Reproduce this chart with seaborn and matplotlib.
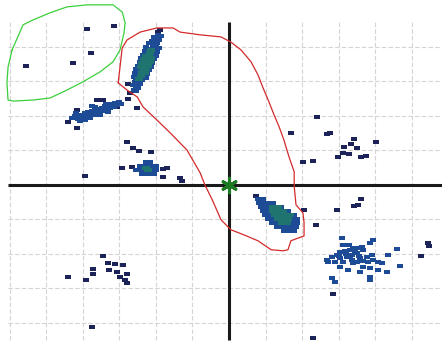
import numpy as np
import pandas as pd
import matplotlib
matplotlib.use("Agg")
import matplotlib.pyplot as plt
from matplotlib.path import Path
import seaborn as sns
sns.set_theme(style="white")

# scattered single points (dark navy)
sparse_x = [-3.88, -3.14, -3.77, -4.26, -5.55,
            -4.40, -4.15, -4.15, -3.61, -3.44, -2.76, -2.51, -3.06,
            -1.89, -1.94, -2.70, -2.76,
            -2.79, -2.62, -2.46, -2.13, -2.92, -2.65, -1.80, -1.69, -1.80, -1.34, -1.28, -3.93,
            -3.44, -3.31, -3.11, -2.90, -3.72, -3.72, -3.28, -3.06, -2.79, -2.98, -2.84, -2.79, -4.40, -3.91, -3.74,
            2.40, 1.69, 2.68, 2.76, 3.42, 3.14, 3.33, 3.50, 4.02, 3.11, 2.98, 3.28, 3.61, 3.74, 2.29, 2.02,
            2.05, 2.38, 2.95, 3.42, 3.52, 3.61, 0.74,
            5.25, 5.44, 5.46, 2.84, 2.29]
sparse_y = [4.52, 4.61, 3.83, 3.54, 3.45,
            1.83, 1.65, 2.17, 2.46, 2.46, 2.49, 2.23, 2.26,
            4.49, 4.44, 2.67, 2.93,
            1.25, 1.07, 0.99, 0.96, 0.49, 0.52, 0.46, 0.49, 0.23, 0.20, 0.12, 0.26,
            -2.06, -2.26, -2.29, -2.32, -2.44, -2.58, -2.46, -2.52, -2.58, -2.67, -2.75, -2.84, -2.67, -2.75, -4.12,
            1.97, 1.51, 1.48, 1.51, 1.33, 1.10, 1.19, 1.07, 1.25, 0.93, 0.81, 0.90, 0.81, 0.84, 0.70, 0.67,
            -0.72, -1.16, -0.72, -0.61, -0.58, -0.41, -0.32,
            -2.06, -1.68, -1.77, -3.16, -4.44]

# cluster points (blue)
cluster_x = [
    # left band
    -4.29, -4.21, -4.13, -4.07, -3.99, -3.93, -3.88, -3.85, -3.80, -3.74, -3.69, -3.66, -3.61, -3.55,
    -3.52, -3.47, -3.42, -3.39, -3.33, -3.28, -3.25, -3.20, -3.14, -3.11, -3.06, -3.01, -2.95,
    -4.07, -3.80, -3.52, -3.31, -3.93, -3.66, -3.36, -4.18, -3.74,
    # elongated upper cluster
    -1.94, -1.87, -2.05, -1.98, -1.91, -2.10, -2.03, -1.96, -2.18, -2.07, -1.99, -1.92,
    -2.26, -2.19, -2.11, -2.04, -1.96, -2.31, -2.23, -2.16, -2.08, -2.01,
    -2.35, -2.28, -2.20, -2.13, -2.05, -2.40, -2.32, -2.25, -2.17, -2.10,
    -2.44, -2.37, -2.29, -2.22, -2.14, -2.48, -2.41, -2.33, -2.26, -2.18,
    -2.53, -2.45, -2.38, -2.30, -2.23, -2.57, -2.50, -2.42, -2.35, -2.27,
    -2.61, -2.54, -2.46, -2.39, -2.58, -2.51, -2.44, -2.62, -2.55, -2.48, -2.60, -2.53,
    # middle cluster
    -2.43, -2.32, -2.21, -2.10, -1.99, -2.54, -2.43, -2.32, -2.21, -2.10, -1.99,
    -2.38, -2.27, -2.16, -2.05, -2.27, -2.16,
    # dense cluster right of centre
    0.79, 0.93, 0.81, 0.95, 1.09, 1.20, 0.87, 1.01, 1.15, 1.28, 1.42,
    0.93, 1.07, 1.20, 1.34, 1.48, 1.61, 0.98, 1.12, 1.26, 1.39, 1.53, 1.67, 1.78,
    1.07, 1.20, 1.34, 1.48, 1.61, 1.75, 1.86, 1.18, 1.31, 1.45, 1.58, 1.72, 1.86,
    1.31, 1.45, 1.58, 1.72, 1.84, 1.50, 1.64, 1.78,
    # lower right cluster
    3.09, 3.11, 3.28, 3.85, 3.93, 2.70, 2.81, 2.95, 3.03, 3.17, 3.31, 3.39, 3.52, 3.63, 3.66,
    3.50, 3.36, 3.22, 3.03, 2.90, 3.11, 3.36, 3.58, 3.77, 3.91, 3.93, 3.80, 4.07, 4.18, 4.34,
    4.59, 4.67, 3.66, 3.85, 4.07, 4.32, 3.58, 3.25, 3.03, 3.85, 3.85, 2.81, 2.90, 3.39, 3.50,
    3.66, 2.68, 3.20, 3.45, 3.55, 3.30, 3.00]
cluster_y = [
    1.94, 2.00, 1.91, 2.03, 1.97, 2.09, 2.00, 2.12, 2.06, 2.15, 2.03, 2.17, 2.09, 2.20,
    2.12, 2.23, 2.15, 2.29, 2.20, 2.32, 2.23, 2.35, 2.26, 2.38, 2.32, 2.41, 2.35,
    1.86, 1.94, 2.03, 2.12, 1.88, 2.26, 2.35, 2.09, 2.29,
    4.35, 4.32, 4.28, 4.24, 4.20, 4.17, 4.13, 4.10, 4.10, 4.03, 3.99, 3.96,
    3.99, 3.95, 3.92, 3.89, 3.85, 3.89, 3.85, 3.82, 3.78, 3.75,
    3.78, 3.74, 3.71, 3.67, 3.64, 3.67, 3.64, 3.60, 3.57, 3.53,
    3.57, 3.53, 3.50, 3.46, 3.43, 3.46, 3.42, 3.39, 3.35, 3.32,
    3.35, 3.31, 3.28, 3.24, 3.21, 3.24, 3.20, 3.17, 3.13, 3.10,
    3.14, 3.10, 3.07, 3.03, 2.99, 2.96, 2.92, 2.89, 2.86, 2.82, 2.75, 2.72,
    0.55, 0.55, 0.55, 0.55, 0.55, 0.43, 0.43, 0.43, 0.43, 0.43, 0.43,
    0.32, 0.32, 0.32, 0.32, 0.67, 0.67,
    -0.41, -0.41, -0.52, -0.52, -0.52, -0.52, -0.64, -0.64, -0.64, -0.64, -0.64,
    -0.75, -0.75, -0.75, -0.75, -0.75, -0.75, -0.87, -0.87, -0.87, -0.87, -0.87, -0.87, -0.87,
    -0.99, -0.99, -0.99, -0.99, -0.99, -0.99, -0.99, -1.10, -1.10, -1.10, -1.10, -1.10, -1.10,
    -1.22, -1.22, -1.22, -1.22, -1.22, -1.33, -1.33, -1.33,
    -1.54, -1.74, -1.74, -1.68, -1.59, -2.23, -2.09, -2.03, -1.94, -1.91, -1.88, -1.83, -1.83, -1.80, -1.88,
    -1.97, -2.03, -2.09, -2.12, -2.23, -2.23, -2.17, -2.12, -2.09, -2.03, -2.17, -2.23, -2.23, -2.26, -2.03,
    -1.86, -2.35, -2.38, -2.41, -2.46, -2.52, -2.52, -2.46, -2.38, -2.67, -2.75, -2.70, -2.81, -2.26, -2.23,
    -2.20, -2.17, -2.00, -1.95, -2.05, -2.10, -2.05]

# dense cores (teal)
core_x = [-2.12, -2.16, -2.13, -2.20, -2.28, -2.25, -2.17, -2.32, -2.29, -2.22, -2.37, -2.33,
          -2.26, -2.41, -2.38, -2.30, -2.42, -2.46,
          -2.21, -2.27,
          1.20, 1.34, 1.20, 1.34, 1.48, 1.26, 1.39, 1.53, 1.67, 1.34, 1.48, 1.61, 1.45, 1.58]
core_y = [3.90, 3.82, 3.67, 3.71, 3.74, 3.60, 3.57, 3.64, 3.50, 3.46, 3.53, 3.39,
          3.35, 3.42, 3.28, 3.24, 3.17, 3.07,
          0.43, 0.49,
          -0.64, -0.64, -0.75, -0.75, -0.75, -0.87, -0.87, -0.87, -0.87, -0.99, -0.99, -0.99, -1.10, -1.10]

# hand drawn outlines
green_x = [-5.93, -5.63, -5.36, -4.89, -4.43, -3.88, -3.17, -2.92, -2.84, -2.87, -2.98, -3.17,
           -3.52, -3.99, -4.43, -4.89, -5.36, -5.90, -6.04, -6.07, -6.04, -5.93]
green_y = [3.91, 4.64, 4.78, 4.99, 5.16, 5.22, 5.22, 5.01, 4.70, 4.41, 3.91, 3.57,
           3.28, 2.99, 2.75, 2.52, 2.46, 2.43, 2.46, 2.96, 3.42, 3.91]
red_x = [-3.03, -2.98, -2.92, -2.79, -2.43, -1.97, -1.53, -1.34, -0.79, -0.22, 0.05, 0.33, 0.60,
         0.79, 0.93, 1.07, 1.23, 1.37, 1.50, 1.64, 1.78, 1.78, 1.83, 2.02, 2.05, 2.05, 1.89, 1.69,
         1.61, 1.48, 1.15, 0.79, 0.41, 0.05, -0.22, -0.46, -0.66, -0.79, -1.15, -1.61, -1.97,
         -2.35, -2.51, -2.79, -3.03]
red_y = [2.96, 3.42, 3.97, 4.20, 4.43, 4.55, 4.55, 4.43, 4.35, 4.29, 4.14, 3.91, 3.57,
         3.19, 2.81, 2.46, 2.03, 1.68, 1.30, 0.81, 0.38, -0.03, -0.58, -0.81, -1.10, -1.48, -1.54, -1.62,
         -1.88, -1.91, -1.88, -1.62, -1.45, -1.30, -1.01, -0.43, 0.00, 0.35, 1.01, 1.51, 1.88,
         2.26, 2.55, 2.75, 2.96]

grid_cols = np.arange(-6, 6)
grid_rows = np.arange(-4, 5)

fig = plt.figure(figsize=(4.42, 3.46), dpi=100)
ax = fig.add_axes([0, 0, 1, 1])
ax.set_xlim(-6.26, 5.82)
ax.set_ylim(-4.67, 5.36)
ax.axis("off")

ax.vlines(grid_cols, -4.5, 4.72, colors="#d4d4d4", linestyles=(0, (4, 2)), linewidth=0.8, zorder=0)
ax.hlines(grid_rows, -6.05, 5.82, colors="#d4d4d4", linestyles=(0, (4, 2)), linewidth=0.8, zorder=0)
ax.hlines(0, -6.05, 5.82, colors="#1a1a1a", linewidth=2.2, zorder=1)
ax.vlines(0, -4.5, 4.72, colors="#1a1a1a", linewidth=2.2, zorder=1)

dash = Path([(-1, -0.55), (1, -0.55), (1, 0.55), (-1, 0.55), (-1, -0.55)],
            [Path.MOVETO, Path.LINETO, Path.LINETO, Path.LINETO, Path.CLOSEPOLY])

sns.scatterplot(x=sparse_x, y=sparse_y, marker=dash, s=16, color="#1c2358", linewidth=0, ax=ax, zorder=3)
sns.scatterplot(x=cluster_x, y=cluster_y, marker=dash, s=24, color="#1e4b96", linewidth=0, ax=ax, zorder=3)
sns.scatterplot(x=core_x, y=core_y, marker=dash, s=26, color="#1f7470", linewidth=0, ax=ax, zorder=4)

sns.lineplot(x=green_x, y=green_y, sort=False, estimator=None, color="#3ccf3c", linewidth=0.9, ax=ax, zorder=5)
sns.lineplot(x=red_x, y=red_y, sort=False, estimator=None, color="#d42a2a", linewidth=0.9, ax=ax, zorder=5)

ax.scatter([0], [0], marker=(6, 2, 0), s=110, color="#1d7a22", linewidth=2.2, zorder=6)

fig.savefig("out.png", dpi=100)
